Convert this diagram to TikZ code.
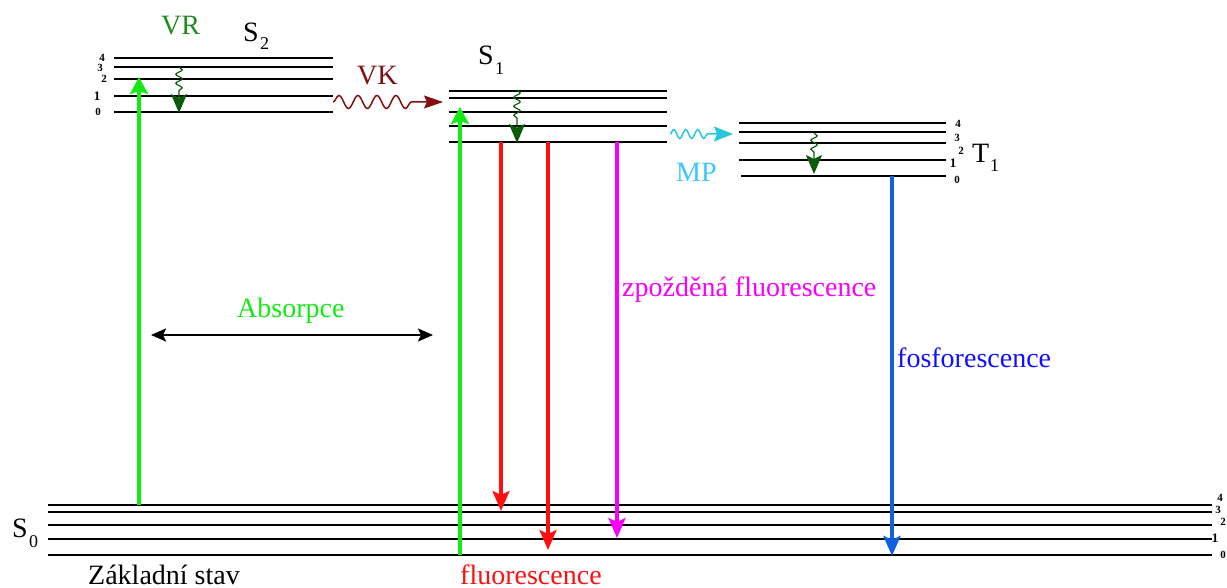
\documentclass[tikz,border=0pt]{standalone}
\usepackage{fontspec}
\setmainfont{Liberation Serif}
\usetikzlibrary{arrows.meta,decorations.pathmorphing}
\definecolor{absgreen}{RGB}{20,235,20}
\definecolor{vrtext}{RGB}{30,140,30}
\definecolor{vrgreen}{RGB}{10,90,10}
\definecolor{vkred}{RGB}{130,16,16}
\definecolor{mpcyan}{RGB}{40,200,220}
\definecolor{mptext}{RGB}{60,200,255}
\definecolor{flred}{RGB}{255,16,16}
\definecolor{dfmag}{RGB}{250,0,250}
\definecolor{phblue}{RGB}{16,96,224}
\definecolor{phtext}{RGB}{16,16,255}
\tikzset{
  level/.style={line width=2pt},
  lbl/.style={inner sep=0pt,anchor=base west,font=\fontsize{28}{30}\selectfont},
  sub/.style={inner sep=0pt,anchor=base west,font=\fontsize{18}{20}\selectfont},
  dig/.style={inner sep=0pt,font=\fontsize{11}{12}\selectfont\bfseries},
  bighead/.style={-{Stealth[length=20pt,width=17pt,inset=4pt]}},
  radiative/.style={line width=3.5pt,bighead},
  squiggle/.style={draw=vrgreen,line width=1.2pt,decorate,
    decoration={snake,amplitude=3.2pt,segment length=9pt,post length=20pt},
    -{Stealth[length=19pt,width=16pt,inset=4pt]}},
}
\begin{document}
\begin{tikzpicture}[x=1pt,y=-1pt]
\useasboundingbox (0,0) rectangle (1227,588);
\fill[white] (0,0) rectangle (1227,588);
% levels
\foreach \y in {58,67,79,96,112} \draw[level] (114,\y) -- (333,\y);
\foreach \y in {91,98,112,126} \draw[level] (449,\y) -- (667,\y);
\draw[line width=1.6pt] (449,142) -- (667,142);
\foreach \y in {123,132,143,160} \draw[level] (739,\y) -- (946,\y);
\draw[line width=1.3pt] (741,176) -- (946,176);
\foreach \y in {505,512,525,539,555} \draw[level] (48,\y) -- (1212,\y);
% vibrational numbers
\node[dig] (s2d4) at (102,58) {4};
\node[dig] (s2d3) at (100,68) {3};
\node[dig] (s2d2) at (104,79) {2};
\node[dig,font=\fontsize{13}{14}\selectfont\bfseries] (s2d1) at (97,96) {1};
\node[dig] (s2d0) at (98,112) {0};
\node[dig] (t1d4) at (958,124) {4};
\node[dig] (t1d3) at (957,138) {3};
\node[dig] (t1d2) at (961,151) {2};
\node[dig,font=\fontsize{13}{14}\selectfont\bfseries] (t1d1) at (953,163) {1};
\node[dig] (t1d0) at (957,180) {0};
\node[dig] (s0d4) at (1220,498) {4};
\node[dig] (s0d3) at (1218,510) {3};
\node[dig] (s0d2) at (1223,522) {2};
\node[dig,font=\fontsize{13}{14}\selectfont\bfseries] (s0d1) at (1215,538) {1};
\node[dig] (s0d0) at (1223,555) {0};
% coordinates
\coordinate (a2s) at (139,505); \coordinate (a2e) at (139,77);
\coordinate (a1s) at (460,555); \coordinate (a1e) at (460,107);
\coordinate (f1s) at (501,142); \coordinate (f1e) at (501,511);
\coordinate (f2s) at (548,142); \coordinate (f2e) at (548,550);
\coordinate (dfs) at (617,142); \coordinate (dfe) at (617,538);
\coordinate (phs) at (892,176); \coordinate (phe) at (892,556);
\coordinate (abl) at (151,335); \coordinate (abr) at (433,335);
\coordinate (vks) at (333,102); \coordinate (vke) at (443,102);
\coordinate (mps) at (670,134); \coordinate (mpe) at (733,134);
\coordinate (vr2s) at (179,67); \coordinate (vr2e) at (179,113);
\coordinate (vr1s) at (517,90); \coordinate (vr1e) at (517,143);
\coordinate (vrts) at (814,133); \coordinate (vrte) at (814,174);
% radiative arrows
\draw[absgreen,radiative,-{Stealth[length=17pt,width=18pt,inset=3pt]}] (a2s) -- (a2e);
\draw[absgreen,radiative,-{Stealth[length=17pt,width=18pt,inset=3pt]}] (a1s) -- (a1e);
\draw[flred,radiative] (f1s) -- (f1e);
\draw[flred,radiative] (f2s) -- (f2e);
\draw[dfmag,radiative] (dfs) -- (dfe);
\draw[phblue,radiative,line width=4pt] (phs) -- (phe);
\draw[line width=2pt,{Stealth[length=15pt,width=13pt,inset=3pt]}-{Stealth[length=15pt,width=13pt,inset=3pt]}] (abl) -- (abr);
% nonradiative
\draw[vkred,line width=1.5pt,decorate,decoration={snake,amplitude=6.5pt,segment length=19pt,post length=28pt},
  -{Stealth[length=19pt,width=13pt,inset=3pt]}] (vks) -- (vke);
\draw[mpcyan,line width=1.5pt,decorate,decoration={snake,amplitude=4.5pt,segment length=12pt,post length=20pt},
  -{Stealth[length=19pt,width=15pt,inset=3pt]}] (mps) -- (mpe);
\draw[squiggle] (vr2s) -- (vr2e);
\draw[squiggle,decoration={snake,amplitude=3.2pt,segment length=9pt,post length=22pt}] (vr1s) -- (vr1e);
\draw[squiggle] (vrts) -- (vrte);
% labels
\node[lbl,text=vrtext] (vr) at (161,35) {VR};
\node[lbl] (s2) at (243,42) {S};
\node[sub] (s2sub) at (260,50) {2};
\node[lbl,text=vkred] (vk) at (357,85) {VK};
\node[lbl] (s1) at (478,65) {S};
\node[sub] (s1sub) at (495,75) {1};
\node[lbl,text=mptext] (mp) at (676,182) {MP};
\node[lbl] (t1) at (972,163) {T};
\node[sub] (t1sub) at (990,172) {1};
\node[lbl] (s0) at (12,537) {S};
\node[sub] (s0sub) at (29,547) {0};
\node[lbl,text=absgreen] (abs) at (237,317) {Absorpce};
\node[lbl,text=dfmag] (df) at (622,297) {zpožděná fluorescence};
\node[lbl,text=phtext] (ph) at (897,367) {fosforescence};
\node[lbl,text depth=0pt] (zs) at (88,584) {Základní stav};
\node[lbl,text depth=0pt,text=flred] (fl) at (460,584) {fluorescence};
\end{tikzpicture}
\end{document}
